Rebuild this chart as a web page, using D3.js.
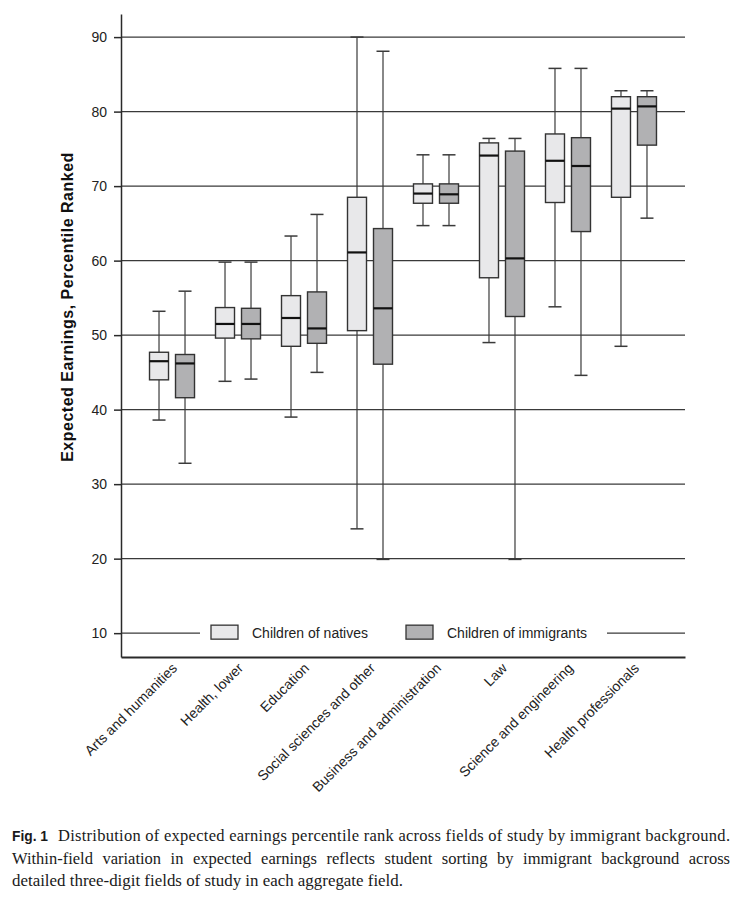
<!DOCTYPE html>
<html>
<head>
<meta charset="utf-8">
<script src="https://cdn.jsdelivr.net/npm/d3@7"></script>
<style>
  body { margin: 0; background: #fff; }
  svg { display: block; }
</style>
</head>
<body>
<script>
//fields of study, in plot order
var categories = ["Arts and humanities", "Health, lower", "Education", "Social sciences and other",
    "Business and administration", "Law", "Science and engineering", "Health professionals"];

var series = ["Children of natives", "Children of immigrants"];

//box plot values (percentile rank)
var nativesLow    = [38.6, 43.8, 39.0, 24.0, 64.7, 49.0, 53.8, 48.5];
var nativesQ1     = [44.0, 49.6, 48.5, 50.6, 67.7, 57.7, 67.8, 68.5];
var nativesMedian = [46.5, 51.5, 52.3, 61.1, 69.0, 74.1, 73.4, 80.4];
var nativesQ3     = [47.7, 53.7, 55.3, 68.5, 70.3, 75.8, 77.0, 82.0];
var nativesHigh   = [53.2, 59.8, 63.3, 90.0, 74.2, 76.4, 85.8, 82.8];

var immigrantsLow    = [32.8, 44.1, 45.0, 19.9, 64.7, 19.9, 44.6, 65.7];
var immigrantsQ1     = [41.6, 49.5, 48.9, 46.1, 67.7, 52.5, 63.9, 75.5];
var immigrantsMedian = [46.2, 51.5, 50.9, 53.6, 68.9, 60.3, 72.7, 80.7];
var immigrantsQ3     = [47.4, 53.6, 55.8, 64.3, 70.3, 74.7, 76.5, 82.0];
var immigrantsHigh   = [55.9, 59.8, 66.2, 88.1, 74.2, 76.4, 85.8, 82.8];

var yTicks = [10, 20, 30, 40, 50, 60, 70, 80, 90];

var captionLines = [
    "Distribution of expected earnings percentile rank across fields of study by immigrant background.",
    "Within-field variation in expected earnings reflects student sorting by immigrant background across",
    "detailed three-digit fields of study in each aggregate field."
];

window.onload = drawChart();

function drawChart() {
    var width = 748,
        height = 905;

    var left = 121, right = 685, top = 14, bottom = 657;

    var fills = ["#e8e8ea", "#b1b1b3"];

    var svg = d3.select("body")
        .append("svg")
        .attr("width", width)
        .attr("height", height)
        .style("font-family", "'Liberation Sans', Arial, sans-serif");

    var x = d3.scaleBand()
        .domain(categories)
        .range([left, right])
        .paddingInner(0)
        .paddingOuter(0.273);

    var xSub = d3.scaleBand()
        .domain(series)
        .range([x.bandwidth() / 2 - 22.5, x.bandwidth() / 2 + 22.5])
        .paddingInner(7 / 26);

    var y = d3.scaleLinear()
        .domain([6.8, 93.1])
        .range([bottom, top]);

    //horizontal gridlines
    svg.append("g")
        .selectAll("line")
        .data(yTicks)
        .enter()
        .append("line")
        .attr("x1", left)
        .attr("x2", right)
        .attr("y1", function(d) { return y(d); })
        .attr("y2", function(d) { return y(d); })
        .attr("stroke", "#3a3a3a")
        .attr("stroke-width", 1.3);

    //y axis
    var yAxis = svg.append("g")
        .attr("transform", "translate(" + left + ",0)")
        .call(d3.axisLeft(y).tickValues(yTicks).tickSize(7).tickSizeOuter(0).tickPadding(7));
    yAxis.selectAll("path, line").attr("stroke", "#2a2a2a").attr("stroke-width", 1.5);
    yAxis.selectAll("text")
        .attr("font-size", 14)
        .attr("fill", "#222")
        .style("font-family", "'Liberation Sans', Arial, sans-serif");

    //x axis with slanted labels
    var xAxis = svg.append("g")
        .attr("transform", "translate(0," + bottom + ")")
        .call(d3.axisBottom(x).tickSize(0).tickSizeOuter(0));
    xAxis.select("path").attr("stroke", "#2a2a2a").attr("stroke-width", 2);
    xAxis.selectAll("text")
        .attr("y", 0)
        .attr("dy", 0)
        .attr("text-anchor", "end")
        .attr("transform", "translate(6,12) rotate(-45)")
        .attr("font-size", 14)
        .attr("fill", "#222")
        .style("font-family", "'Liberation Sans', Arial, sans-serif");

    //y axis title
    svg.append("text")
        .attr("transform", "translate(73,307) rotate(-90)")
        .attr("text-anchor", "middle")
        .attr("font-size", 16)
        .attr("font-weight", "bold")
        .attr("letter-spacing", 0.5)
        .attr("fill", "#111")
        .text("Expected Earnings, Percentile Ranked");

    //box data per series
    var boxes = [
        { low: nativesLow, q1: nativesQ1, med: nativesMedian, q3: nativesQ3, high: nativesHigh },
        { low: immigrantsLow, q1: immigrantsQ1, med: immigrantsMedian, q3: immigrantsQ3, high: immigrantsHigh }
    ];

    var rows = [];
    boxes.forEach(function(b, s) {
        categories.forEach(function(c, i) {
            rows.push({ cat: c, series: series[s], s: s,
                low: b.low[i], q1: b.q1[i], med: b.med[i], q3: b.q3[i], high: b.high[i] });
        });
    });

    var bw = xSub.bandwidth(), cap = 13;

    var g = svg.append("g")
        .selectAll("g")
        .data(rows)
        .enter()
        .append("g")
        .attr("transform", function(d) { return "translate(" + (x(d.cat) + xSub(d.series)) + ",0)"; });

    //whisker
    g.append("line")
        .attr("x1", bw / 2).attr("x2", bw / 2)
        .attr("y1", function(d) { return y(d.low); })
        .attr("y2", function(d) { return y(d.high); })
        .attr("stroke", "#3a3a3a")
        .attr("stroke-width", 1.2);

    //caps
    ["low", "high"].forEach(function(k) {
        g.append("line")
            .attr("x1", bw / 2 - cap / 2).attr("x2", bw / 2 + cap / 2)
            .attr("y1", function(d) { return y(d[k]); })
            .attr("y2", function(d) { return y(d[k]); })
            .attr("stroke", "#3a3a3a")
            .attr("stroke-width", 1.5);
    });

    //box
    g.append("rect")
        .attr("x", 0)
        .attr("width", bw)
        .attr("y", function(d) { return y(d.q3); })
        .attr("height", function(d) { return y(d.q1) - y(d.q3); })
        .attr("fill", function(d) { return fills[d.s]; })
        .attr("stroke", "#333")
        .attr("stroke-width", 1.4);

    //median
    g.append("line")
        .attr("x1", 0).attr("x2", bw)
        .attr("y1", function(d) { return y(d.med); })
        .attr("y2", function(d) { return y(d.med); })
        .attr("stroke", "#111")
        .attr("stroke-width", 2.2);

    //legend sits on the 10 gridline
    var ly = y(10);
    svg.append("rect")
        .attr("x", 200).attr("y", ly - 11)
        .attr("width", 407).attr("height", 22)
        .attr("fill", "#fff");

    var legendX = [211, 406];
    var legend = svg.append("g")
        .selectAll("g")
        .data(series)
        .enter()
        .append("g")
        .attr("transform", function(d, i) { return "translate(" + legendX[i] + "," + ly + ")"; });

    legend.append("rect")
        .attr("x", 0).attr("y", -8)
        .attr("width", 27).attr("height", 14)
        .attr("fill", function(d, i) { return fills[i]; })
        .attr("stroke", "#333")
        .attr("stroke-width", 1.3);

    legend.append("text")
        .attr("x", 41)
        .attr("y", 5)
        .attr("font-size", 14)
        .attr("fill", "#222")
        .text(function(d) { return d; });

    //caption
    var capLeft = 12, capRight = 730;
    var capY = [841, 863.5, 886];
    var capStart = [58, capLeft, capLeft];
    var serif = "'Liberation Serif', 'Times New Roman', serif";

    svg.append("text")
        .attr("x", capLeft)
        .attr("y", capY[0])
        .attr("font-size", 15)
        .attr("font-weight", "bold")
        .attr("fill", "#1a1a1a")
        .attr("textLength", 36)
        .attr("lengthAdjust", "spacingAndGlyphs")
        .text("Fig. 1");

    captionLines.forEach(function(line, i) {
        var t = svg.append("text")
            .attr("x", capStart[i])
            .attr("y", capY[i])
            .attr("font-size", 16.5)
            .attr("fill", "#1a1a1a")
            .style("font-family", serif)
            .text(line);
        if (i === 0) {
            t.attr("textLength", capRight - capStart[i]).attr("lengthAdjust", "spacing");
        } else if (i === 1) {
            //justify by stretching the word spaces
            var w = t.node().getComputedTextLength();
            var spaces = line.split(" ").length - 1;
            t.attr("word-spacing", (capRight - capStart[i] - w) / spaces);
        } else {
            t.attr("textLength", 391).attr("lengthAdjust", "spacingAndGlyphs");
        }
    });
}
</script>
</body>
</html>
